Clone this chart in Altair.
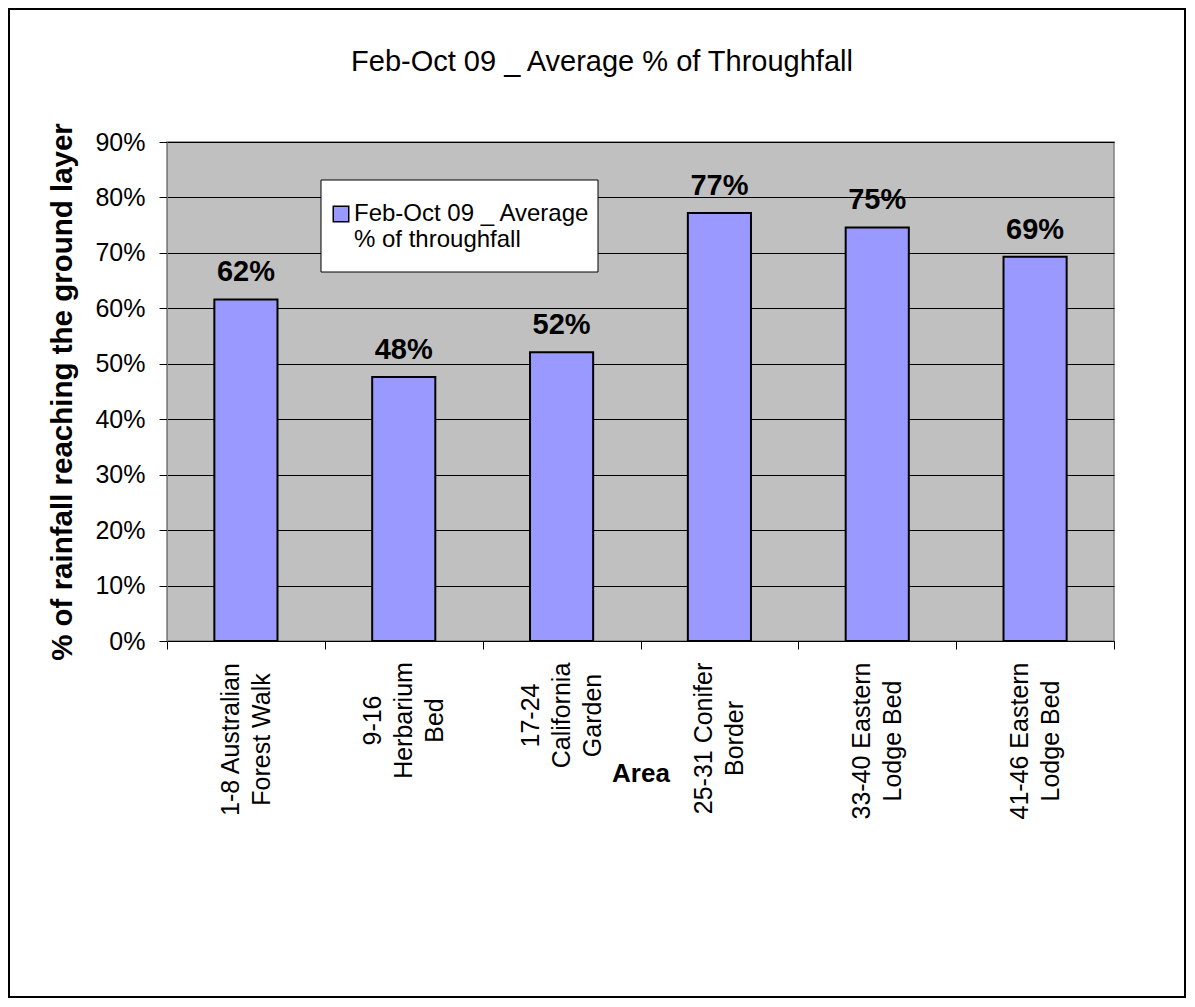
import json
import altair as alt
import pandas as pd

# ---- data ----
areas = [
    "1-8 Australian\nForest Walk",
    "9-16\nHerbarium\nBed",
    "17-24\nCalifornia\nGarden",
    "25-31 Conifer\nBorder",
    "33-40 Eastern\nLodge Bed",
    "41-46 Eastern\nLodge Bed",
]
throughfall = [61.6, 47.6, 52.1, 77.2, 74.6, 69.3]
series_name = "Feb-Oct 09 _ Average % of throughfall"
legend_lines = ["Feb-Oct 09 _ Average", "% of throughfall"]
y_ticks = [0, 10, 20, 30, 40, 50, 60, 70, 80, 90]
chart_title = "Feb-Oct 09 _ Average % of Throughfall"
y_title = "% of rainfall reaching the ground layer"
x_title = "Area"

FONT = "Liberation Sans"
LABEL_SIZE = 25
LINE_H = 31
# distance from tick end to the centre of each rotated label block (half its longest line + gap)
label_centre_pad = [90, 71, 66, 89, 91.5, 91.5]

df = pd.DataFrame({"area": areas, "value": throughfall, "series": [series_name] * len(areas)})

pad_cond = [
    {"test": f"datum.value == {json.dumps(a)}", "value": p}
    for a, p in zip(areas, label_centre_pad)
]
off_cond = [
    {"test": f"datum.value == {json.dumps(a)}", "value": -(len(a.split(chr(10))) - 1) * LINE_H / 2}
    for a in areas
]

x_enc = alt.X(
    "area:N",
    sort=areas,
    scale=alt.Scale(paddingInner=0, paddingOuter=0),
    axis=alt.Axis(
        title=x_title,
        labelAngle=-90,
        labelAlign="center",
        labelExpr="isValid(datum.value) ? split(datum.value, '\\n') : ''",
        labelFontSize=LABEL_SIZE,
        labelLineHeight=LINE_H,
        labelPadding={"condition": pad_cond, "value": 90},
        labelOffset={"condition": off_cond, "value": 0},
        labelColor="black",
        labelLimit=0,
        tickSize=8,
        tickBand="extent",
        tickColor="black",
        domainColor="black",
        grid=False,
        titleFontSize=26,
        titleFontWeight="bold",
        titleColor="black",
        titleY=132,
        titleBaseline="middle",
    ),
)
y_enc = alt.Y(
    "value:Q",
    scale=alt.Scale(domain=[0, 90], nice=False),
    axis=alt.Axis(
        values=y_ticks,
        labelExpr="datum.value + '%'",
        labelFontSize=LABEL_SIZE,
        labelPadding=14,
        labelColor="black",
        tickSize=8,
        tickColor="black",
        domainColor="#808080",
        grid=True,
        gridColor="black",
        gridWidth=1,
        title=y_title,
        titleFontSize=29.5,
        titleFontWeight="bold",
        titleColor="black",
        titlePadding=17,
    ),
)

base = alt.Chart(df)

bars = base.mark_bar(
    stroke="black", strokeWidth=2, width=alt.RelativeBandSize(0.4)
).encode(
    x=x_enc,
    y=y_enc,
    color=alt.Color(
        "series:N",
        scale=alt.Scale(range=["#9999FF"]),
        legend=alt.Legend(
            orient="none",
            legendX=162,
            legendY=60,
            title=None,
            padding=0,
            symbolType="square",
            symbolSize=240,
            symbolStrokeColor="black",
            symbolStrokeWidth=1.5,
            labelFontSize=24,
            labelColor="black",
            labelOffset=1,
            labelLimit=0,
            labelExpr=json.dumps(legend_lines).replace('"', "'"),
        ),
    ),
)

labels = base.transform_calculate(
    label="format(datum.value, '.0f') + '%'"
).mark_text(fontSize=29, fontWeight="bold", baseline="alphabetic", dy=-18, color="black").encode(
    x=alt.X("area:N", sort=areas),
    y=alt.Y("value:Q"),
    text="label:N",
)

one = pd.DataFrame({"k": [0]})

# white legend box (drawn under the legend symbol and text)
legend_box = alt.Chart(one).mark_rect(fill="white", stroke="black", strokeWidth=1).encode(
    x=alt.value(154), x2=alt.value(431), y=alt.value(38), y2=alt.value(130)
)

# outer chart-area border
frame = alt.Chart(one).mark_rect(filled=False, stroke="black", strokeWidth=2).encode(
    x=alt.value(-158), x2=alt.value(1018), y=alt.value(-133), y2=alt.value(855)
)

chart = (
    alt.layer(bars, labels, legend_box, frame)
    .properties(
        width=947,
        height=499,
        autosize=alt.AutoSizeParams(type="none"),
        padding={"left": 159, "top": 134, "right": 73, "bottom": 358},
        title=alt.Title(
            chart_title,
            fontSize=29,
            fontWeight="normal",
            color="black",
            frame="group",
            anchor="middle",
            offset=-92,
            dx=-38.5,
            baseline="alphabetic",
        ),
    )
    .configure(font=FONT)
    .configure_view(fill="#C0C0C0", stroke="#808080", strokeWidth=1.5)
)

chart.save("out.html", embed_options={"renderer": "svg", "actions": False})
